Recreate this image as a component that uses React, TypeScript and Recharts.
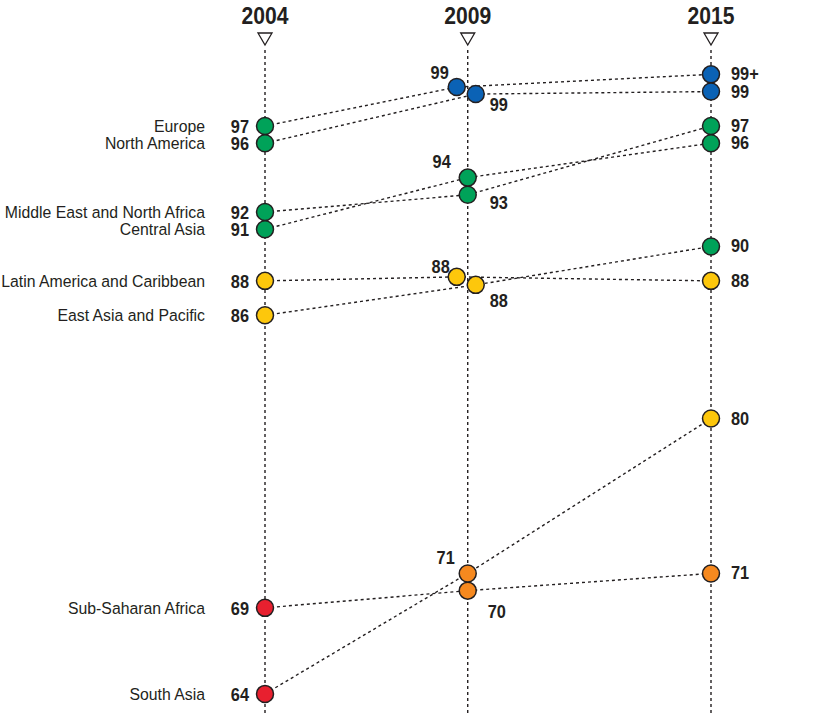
import { LineChart, Line, XAxis, YAxis, ReferenceLine } from "recharts";

const years = [2004, 2009, 2015];

const regions = [
  "Europe",
  "North America",
  "Middle East and North Africa",
  "Central Asia",
  "Latin America and Caribbean",
  "East Asia and Pacific",
  "Sub-Saharan Africa",
  "South Asia",
];

// values per region for 2004, 2009, 2015 (100 is shown as "99+")
const europe = [97, 99, 100];
const northAmerica = [96, 99, 99];
const middleEast = [92, 93, 97];
const centralAsia = [91, 94, 96];
const latinAmerica = [88, 88, 88];
const eastAsia = [86, 88, 90];
const subSaharan = [69, 70, 71];
const southAsia = [64, 71, 80];

const series = [europe, northAmerica, middleEast, centralAsia, latinAmerica, eastAsia, subSaharan, southAsia];

const W = 822;
const H = 713;
const M = { top: 47, right: 111, bottom: 0, left: 265 };
const Y_DOMAIN: [number, number] = [62.89, 101.59];
const PX_YEAR = (W - M.left - M.right) / (years[2] - years[0]);
const PX_UNIT = (H - M.top - M.bottom) / (Y_DOMAIN[1] - Y_DOMAIN[0]);

const FONT = "'Liberation Sans', Arial, sans-serif";
const INK = "#231f20";

// pixel nudges for the overlapping 2009 dots
const nudge2009: Record<string, [number, number]> = {
  Europe: [-11, -4.5],
  "North America": [8, 2.5],
  "Latin America and Caribbean": [-11, -4],
  "East Asia and Pacific": [8, 4],
};

// 2009 label placement: dx, dy, anchor
const label2009: Record<string, [number, number, "start" | "end"]> = {
  Europe: [-8, -8, "end"],
  "North America": [14, 17, "start"],
  "Middle East and North Africa": [22, 14, "start"],
  "Central Asia": [-17, -10, "end"],
  "Latin America and Caribbean": [-7, -4, "end"],
  "East Asia and Pacific": [14, 22, "start"],
  "Sub-Saharan Africa": [20, 27, "start"],
  "South Asia": [-13, -9, "end"],
};

const colorFor = (v: number) => {
  if (v >= 99) return "#0b62b5";
  if (v >= 90) return "#00a259";
  if (v >= 80) return "#fdc70c";
  if (v >= 70) return "#f6891f";
  return "#e8202f";
};

const fmt = (v: number) => (v >= 100 ? "99+" : String(v));

const rowsFor = (region: string, values: number[]) =>
  values.map((v, i) => {
    const n = i === 1 && nudge2009[region] ? nudge2009[region] : [0, 0];
    return {
      x: years[i] + n[0] / PX_YEAR,
      y: v - n[1] / PX_UNIT,
      value: v,
      region,
      idx: i,
    };
  });

// condensed-looking text: squeeze horizontally around the anchor point
const Cond = ({ x, y, anchor, size, bold, sx, children }: any) => (
  <text
    transform={`translate(${x},${y}) scale(${sx},1)`}
    textAnchor={anchor}
    fontSize={size}
    fontWeight={bold ? "bold" : "normal"}
    fill={INK}
    fontFamily={FONT}
  >
    {children}
  </text>
);

const Value = ({ x, y, anchor, v }: any) => (
  <Cond x={x} y={y} anchor={anchor} size={19} bold sx={0.86}>
    {fmt(v)}
  </Cond>
);

const renderDot = (props: any) => {
  const { cx, cy, payload } = props;
  const key = `${payload.region}-${payload.idx}`;
  if (cx == null || cy == null) return <g key={key} />;
  let label;
  if (payload.idx === 0) {
    label = (
      <>
        <Cond x={cx - 60} y={cy + 6} anchor="end" size={17} sx={0.93}>
          {payload.region}
        </Cond>
        <Value x={cx - 16} y={cy + 7} anchor="end" v={payload.value} />
      </>
    );
  } else if (payload.idx === 2) {
    label = <Value x={cx + 20} y={cy + 6} anchor="start" v={payload.value} />;
  } else {
    const [dx, dy, anchor] = label2009[payload.region];
    label = <Value x={cx + dx} y={cy + dy} anchor={anchor} v={payload.value} />;
  }
  return (
    <g key={key}>
      <circle cx={cx} cy={cy} r={8.5} fill={colorFor(payload.value)} stroke={INK} strokeWidth={1.5} />
      {label}
    </g>
  );
};

const YearHead = (props: any) => {
  const { viewBox, year } = props;
  const x = viewBox.x;
  const y = viewBox.y;
  return (
    <g>
      <Cond x={x} y={y - 23} anchor="middle" size={24} bold sx={0.88}>
        {year}
      </Cond>
      <path d={`M${x - 7},${y - 14} L${x + 7},${y - 14} L${x},${y - 2} Z`} fill="#fff" stroke={INK} strokeWidth={1.3} />
    </g>
  );
};

export default function App() {
  const data = regions.map((r, i) => rowsFor(r, series[i]));
  return (
    <div style={{ position: "absolute", left: 0, top: 0, background: "#fff" }}>
      <LineChart width={W} height={H} margin={M}>
        <XAxis type="number" dataKey="x" domain={[years[0], years[2]]} hide />
        <YAxis type="number" dataKey="y" domain={Y_DOMAIN} hide />
        {years.map((yr) => (
          <ReferenceLine
            key={yr}
            x={yr}
            stroke={INK}
            strokeWidth={1.4}
            strokeDasharray="3 3"
            label={<YearHead year={yr} />}
          />
        ))}
        {regions.map((r, i) => (
          <Line
            key={`line-${r}`}
            data={data[i]}
            dataKey="y"
            type="linear"
            stroke={INK}
            strokeWidth={1.4}
            strokeDasharray="3 3"
            dot={false}
            activeDot={false}
            isAnimationActive={false}
          />
        ))}
        {regions.map((r, i) => (
          <Line
            key={`dots-${r}`}
            data={data[i]}
            dataKey="y"
            type="linear"
            stroke="none"
            dot={renderDot}
            activeDot={false}
            isAnimationActive={false}
          />
        ))}
      </LineChart>
    </div>
  );
}
